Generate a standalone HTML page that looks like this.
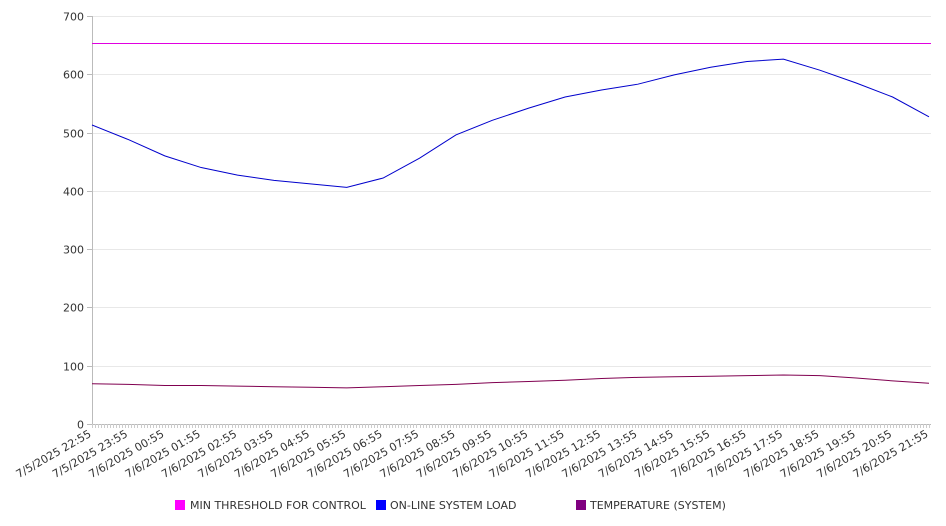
<!DOCTYPE html>
<html><head><meta charset="utf-8"><style>
html,body{margin:0;padding:0;background:#fff;}
svg{display:block;font-family:"DejaVu Sans","Liberation Sans",sans-serif;}
</style></head><body>
<svg id="chart" width="946" height="526" viewBox="0 0 946 526" xmlns="http://www.w3.org/2000/svg">
<g id="grid"></g>
<g id="yaxis"></g>
<g id="xaxis"></g>
<g id="series"></g>
<g id="legend">
  <rect x="175" y="500" width="10" height="10" fill="#ff00ff"/>
  <text x="190" y="509" font-size="11" fill="#333">MIN THRESHOLD FOR CONTROL</text>
  <rect x="376" y="500" width="10" height="10" fill="#0000ff"/>
  <text x="390" y="509" font-size="11" fill="#333">ON-LINE SYSTEM LOAD</text>
  <rect x="576" y="500" width="10" height="10" fill="#800080"/>
  <text x="590" y="509" font-size="11" fill="#333">TEMPERATURE (SYSTEM)</text>
</g>
</svg>
<script>
const categories = ["7/5/2025 22:55","7/5/2025 23:55","7/6/2025 00:55","7/6/2025 01:55","7/6/2025 02:55","7/6/2025 03:55","7/6/2025 04:55","7/6/2025 05:55","7/6/2025 06:55","7/6/2025 07:55","7/6/2025 08:55","7/6/2025 09:55","7/6/2025 10:55","7/6/2025 11:55","7/6/2025 12:55","7/6/2025 13:55","7/6/2025 14:55","7/6/2025 15:55","7/6/2025 16:55","7/6/2025 17:55","7/6/2025 18:55","7/6/2025 19:55","7/6/2025 20:55","7/6/2025 21:55"];
const loadValues = [513,488,460,440,427,418,412,406,422,456,496,521,542,561,573,583,599,612,622,626,607,585,561,527];
const tempValues = [69,68,66,66,65,64,63,62,64,66,68,71,73,75,78,80,81,82,83,84,83,79,74,70];
const thresholdValue = 653;
const yTicks = [0,100,200,300,400,500,600,700];

const NS="http://www.w3.org/2000/svg";
const X0=92,X1=931,Y0=424,Y1=16,YMAX=700;
const n=categories.length;
const xs=i=>X0+i*(X1-2-X0)/(n-1);
const ys=v=>Y0-(v/YMAX)*(Y0-Y1);
function mk(tag,attrs,parent){const e=document.createElementNS(NS,tag);for(const k in attrs)e.setAttribute(k,attrs[k]);parent.appendChild(e);return e;}
const grid=document.getElementById('grid'),yaxis=document.getElementById('yaxis'),xaxis=document.getElementById('xaxis'),series=document.getElementById('series');
yTicks.forEach(t=>{
  const y=Math.round(ys(t))+0.5;
  const l=mk('line',{x1:X0,x2:X1,y1:y,y2:y,stroke:'#e8e8e8','stroke-width':1},grid);
  
  
  const tk=mk('line',{x1:X0-5,x2:X0,y1:y,y2:y,stroke:'#bbb'},yaxis);
  
  
  const tx=mk('text',{x:X0-8,y:y+4,'text-anchor':'end','font-size':11,fill:'#333'},yaxis);
  tx.textContent=t;
  
  
});
const ya=mk('line',{x1:X0+0.5,x2:X0+0.5,y1:Y1,y2:Y0,stroke:'#bbb'},yaxis);


const xa=mk('line',{x1:X0,x2:X1,y1:Y0+0.5,y2:Y0+0.5,stroke:'#bbb'},xaxis);


for(let i=0;i<(n-1)*12+6;i++){
  const x=Math.round(X0+i*(xs(1)-xs(0))/12)+0.5;
  if(x>X1)break;
  const m=mk('line',{x1:x,x2:x,y1:Y0,y2:Y0+4,stroke:'#ccc'},xaxis);
  
  
}
categories.forEach((c,i)=>{
  const x=xs(i);
  const t=mk('text',{x:x,y:Y0+12,'text-anchor':'end','font-size':11,fill:'#333',transform:`rotate(-30 ${x} ${Y0+12})`},xaxis);
  t.textContent=c;
  
  
});
const thy=Math.round(ys(thresholdValue))+0.5;
const th=mk('line',{x1:X0,x2:X1,y1:thy,y2:thy,stroke:'#e000e0','stroke-width':1},series);


function pl(vals,color,name){
  const p=mk('polyline',{points:vals.map((v,i)=>xs(i)+','+ys(v)).join(' '),fill:'none',stroke:color,'stroke-width':1},series);
  
  
}
pl(loadValues,'#0000cc','system-load-line');
pl(tempValues,'#800050','temperature-line');
</script>
</body></html>
